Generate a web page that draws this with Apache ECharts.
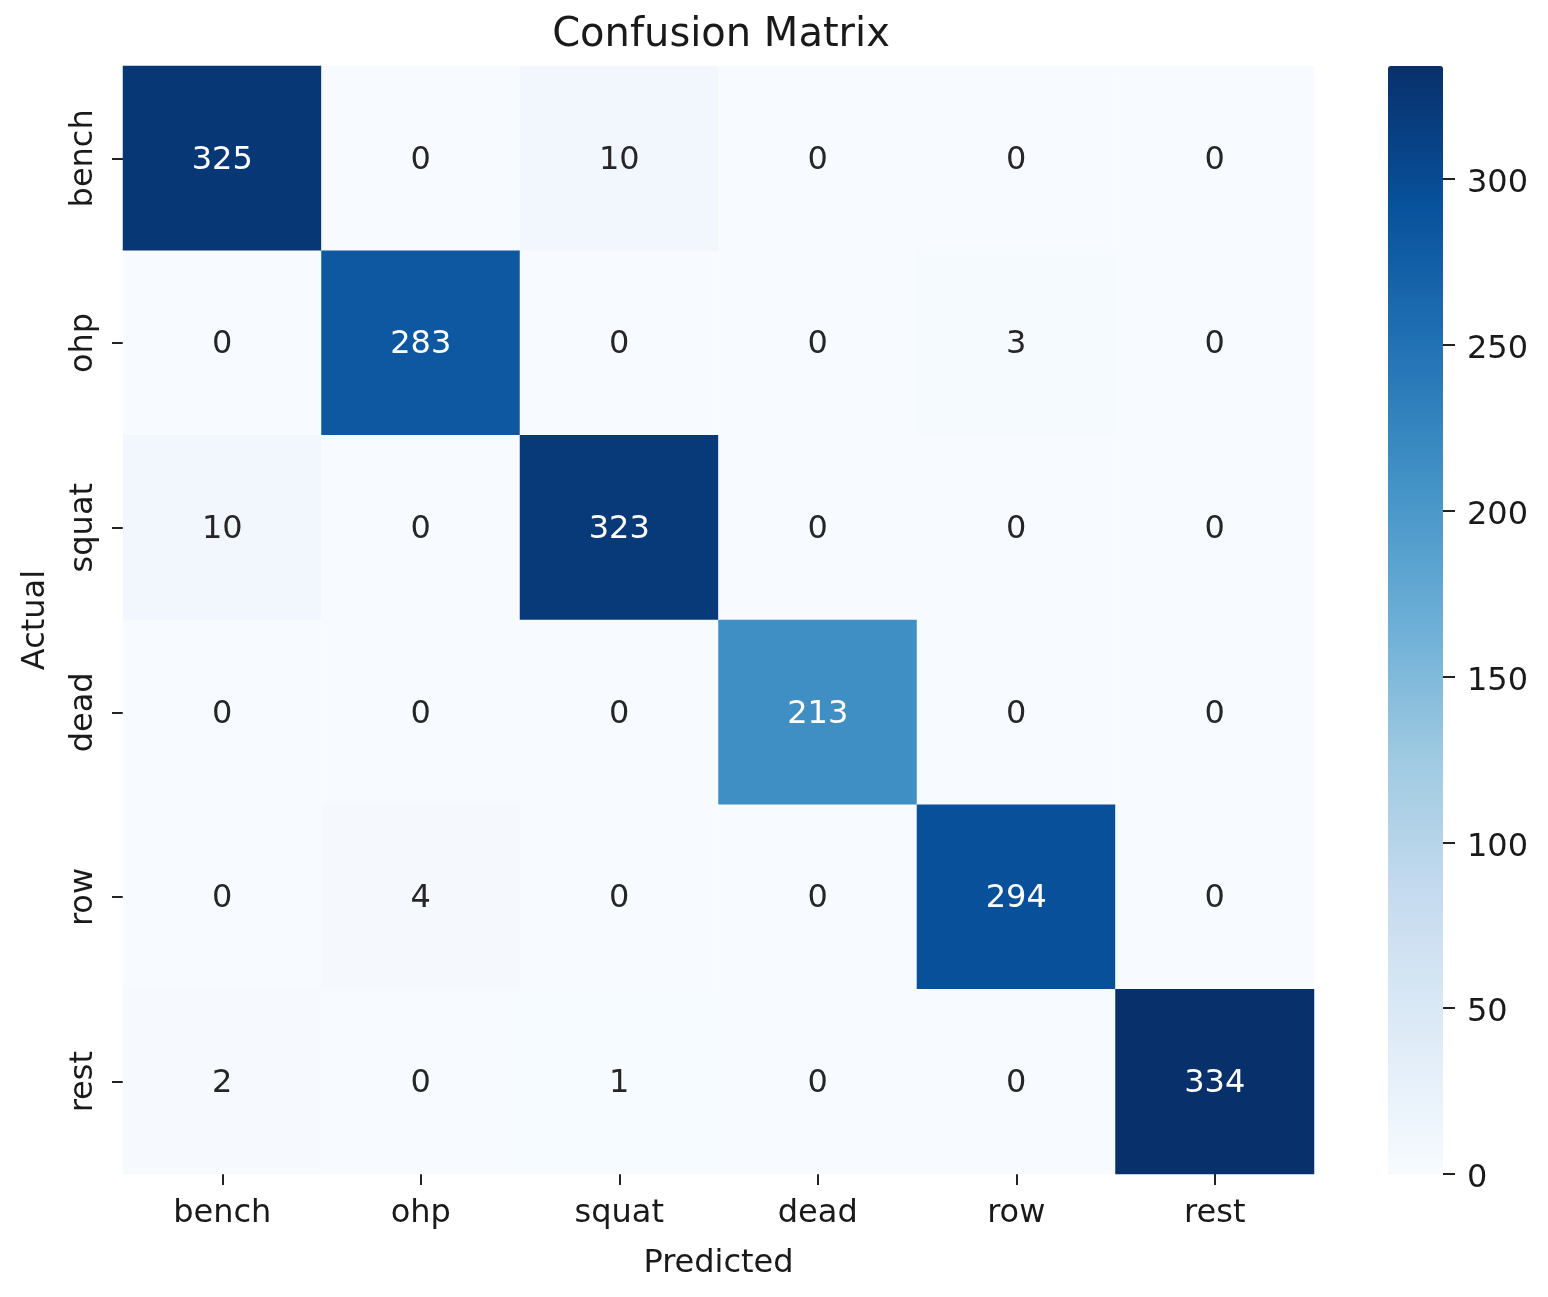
<!DOCTYPE html>
<html>
<head>
<meta charset="utf-8">
<script src="https://cdn.jsdelivr.net/npm/echarts@6/dist/echarts.min.js"></script>
<style>
html,body{margin:0;padding:0;background:#fff;}
#chart{width:1548px;height:1297px;}
</style>
</head>
<body>
<div id="chart"></div>
<script>
const classes = ['bench', 'ohp', 'squat', 'dead', 'row', 'rest'];
// rows = actual, columns = predicted
const row_bench = [325, 0, 10, 0, 0, 0];
const row_ohp   = [0, 283, 0, 0, 3, 0];
const row_squat = [10, 0, 323, 0, 0, 0];
const row_dead  = [0, 0, 0, 213, 0, 0];
const row_row   = [0, 4, 0, 0, 294, 0];
const row_rest  = [2, 0, 1, 0, 0, 334];
const matrix = [row_bench, row_ohp, row_squat, row_dead, row_row, row_rest];
const colorbarTicks = [0, 50, 100, 150, 200, 250, 300];
const vMin = 0, vMax = 334;

const blues = ['#f7fbff','#deebf7','#c6dbef','#9ecae1','#6baed6','#4292c6','#2171b5','#08519c','#08306b'];

const data = [];
matrix.forEach((row, a) => {
  row.forEach((v, p) => {
    data.push({
      value: [p, a, v],
      label: { color: v > (vMax - vMin) * 0.5 ? '#ffffff' : '#262626' }
    });
  });
});

const font = 'DejaVu Sans';
const fs = 32;
const chart = echarts.init(document.getElementById('chart'), null, {renderer: 'canvas'});
chart.setOption({
  backgroundColor: '#ffffff',
  animation: false,
  title: {
    text: 'Confusion Matrix',
    left: 716,
    textAlign: 'center',
    top: 11,
    textStyle: { fontFamily: font, fontSize: 40, fontWeight: 'normal', color: '#1a1a1a' }
  },
  grid: [
    { left: 123, top: 66, width: 1191, height: 1108, outerBoundsMode: 'none', containLabel: false },
    { left: 1443, top: 66, width: 20, height: 1108, outerBoundsMode: 'none', containLabel: false }
  ],
  xAxis: [
    {
      type: 'category', data: classes, gridIndex: 0,
      name: 'Predicted', nameLocation: 'middle', nameGap: 74,
      nameTextStyle: { fontFamily: font, fontSize: fs, color: '#1a1a1a' },
      axisLine: { show: false },
      axisTick: { show: true, alignWithLabel: true, length: 11, lineStyle: { color: '#222', width: 2 } },
      axisLabel: { fontFamily: font, fontSize: fs, color: '#1a1a1a', margin: 24 },
      splitLine: { show: false }
    },
    { type: 'value', gridIndex: 1, show: false, min: 0, max: 1 }
  ],
  yAxis: [
    {
      type: 'category', data: classes, gridIndex: 0, inverse: true,
      name: 'Actual', nameLocation: 'middle', nameGap: 71, nameRotate: 90,
      nameTextStyle: { fontFamily: font, fontSize: fs, color: '#1a1a1a' },
      axisLine: { show: false },
      axisTick: { show: true, alignWithLabel: true, length: 11, lineStyle: { color: '#222', width: 2 } },
      axisLabel: { fontFamily: font, fontSize: fs, color: '#1a1a1a', rotate: 90, margin: 23 },
      splitLine: { show: false }
    },
    {
      type: 'value', gridIndex: 1, position: 'left', min: vMin, max: vMax, interval: 50,
      axisLine: { show: false },
      axisTick: { show: true, inside: true, length: 12, lineStyle: { color: '#222', width: 2 } },
      axisLabel: {
        inside: true, margin: 24, showMaxLabel: false,
        formatter: v => '{t|' + v + '}',
        rich: { t: { fontFamily: font, fontSize: fs, color: '#1a1a1a', padding: [10, 0, 0, 0] } }
      },
      splitLine: { show: false }
    }
  ],
  visualMap: {
    type: 'continuous',
    min: vMin, max: vMax,
    seriesIndex: 0,
    calculable: false,
    hoverLink: false,
    orient: 'vertical',
    left: 1388, top: 66,
    itemWidth: 55, itemHeight: 1108,
    padding: 0,
    text: null,
    showLabel: false,
    inRange: { color: blues }
  },
  series: [{
    type: 'heatmap',
    xAxisIndex: 0, yAxisIndex: 0,
    data: data,
    itemStyle: { borderWidth: 0 },
    label: { show: true, fontFamily: font, fontSize: fs, offset: [0, 2] },
    emphasis: { disabled: true }
  }]
});
</script>
</body>
</html>
